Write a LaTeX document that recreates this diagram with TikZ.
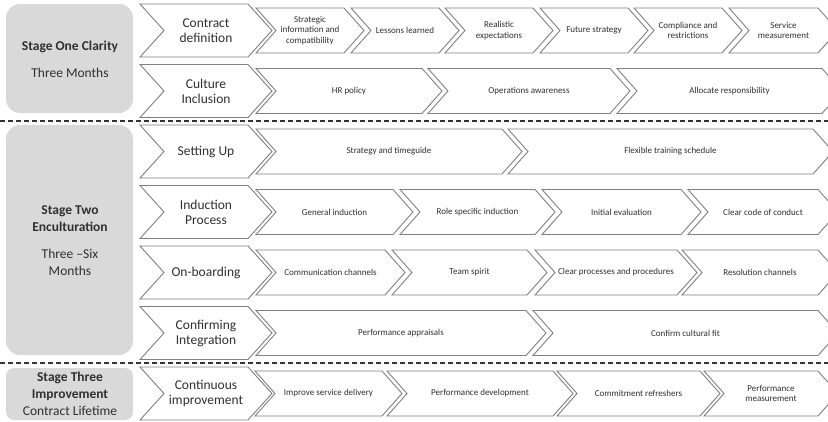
\documentclass[tikz,border=0pt]{standalone}
\usepackage{fontspec}
\setmainfont{Carlito}

\definecolor{stagegray}{HTML}{D9D9D9}
\definecolor{chevgray}{HTML}{7F7F7F}
\definecolor{textgray}{HTML}{303030}

\tikzset{
  chevline/.style={draw=chevgray, line width=0.9pt, fill=white, line join=miter},
  bigtext/.style={align=center, inner sep=0pt, text=textgray,
    font=\fontsize{13.5}{15}\selectfont},
  smalltext/.style={align=center, inner sep=0pt, text=textgray,
    font=\fontsize{9}{10.5}\selectfont},
  stagebox/.style={fill=stagegray, draw=none},
  stagetitle/.style={align=center, inner sep=0pt, text=textgray,
    font=\fontsize{13.5}{16.5}\selectfont\bfseries},
  stagetime/.style={align=center, inner sep=0pt, text=textgray,
    font=\fontsize{13.5}{16.5}\selectfont},
  divider/.style={draw=black!80, line width=1.6pt, dash pattern=on 5pt off 3pt}
}

% big chevron: name, top of row, text
\newcommand{\bigchev}[3]{%
  \draw[chevline] (140,#2) -- ++(108,0) -- ++(24,26.5) -- ++(-24,26.5)
    -- ++(-108,0) -- ++(24,-26.5) -- cycle;
  \node[bigtext] (#1) at (206,#2+26.5) {#3};}

% small chevron: name, left x, width, top of row, text
\newcommand{\smallchev}[5]{%
  \draw[chevline] (#2,#4+4) -- ++(#3,0) -- ++(20,22.5) -- ++(-20,22.5)
    -- ++(-#3,0) -- ++(20,-22.5) -- cycle;
  \node[smalltext] (#1) at (#2+#3/2+10,#4+26.5) {#5};}

\begin{document}
\begin{tikzpicture}[x=1pt,y=-1pt]
  \useasboundingbox (0,0) rectangle (828,421);

  % stages
  \fill[stagebox, rounded corners=14pt] (6,4) rectangle (133,113);
  \fill[stagebox, rounded corners=14pt] (6,125) rectangle (133,355);
  \fill[stagebox, rounded corners=8pt] (6,368) rectangle (133,420);

  \node[stagetitle] (s1title) at (70,47)    {Stage One Clarity};
  \node[stagetime]  (s1time)  at (70,73)    {Three Months};
  \node[stagetitle] (s2title) at (70,218.5) {Stage Two\\Enculturation};
  \node[stagetime]  (s2time)  at (70,262.5) {Three --Six\\Months};
  \node[stagetitle] (s3title) at (70,386.5) {Stage Three\\Improvement};
  \node[stagetime]  (s3time)  at (70,411)   {Contract Lifetime};

  \draw[divider] (0,121) -- (828,121);
  \draw[divider] (0,363) -- (828,363);

  % row 1
  \bigchev{contract}{4}{Contract\\definition}
  \smallchev{strategic}{256}{88}{4}{Strategic\\information and\\compatibility}
  \smallchev{lessons}{351}{88}{4}{Lessons learned}
  \smallchev{realistic}{445}{88}{4}{Realistic\\expectations}
  \smallchev{future}{540}{88}{4}{Future strategy}
  \smallchev{compliance}{634}{88}{4}{Compliance and\\restrictions}
  \smallchev{service}{729}{89}{4}{Service\\measurement}

  % row 2
  \bigchev{culture}{64.5}{Culture\\Inclusion}
  \smallchev{hr}{256}{166}{64.5}{HR policy}
  \smallchev{operations}{428}{182}{64.5}{Operations awareness}
  \smallchev{allocate}{617}{205}{64.5}{Allocate responsibility}

  % row 3
  \bigchev{setting}{125}{Setting Up}
  \smallchev{timeguide}{256}{246}{125}{Strategy and timeguide}
  \smallchev{flexible}{508}{305}{125}{Flexible training schedule}

  % row 4
  \bigchev{induction}{185.5}{Induction\\Process}
  \smallchev{general}{256}{137}{185.5}{General induction}
  \smallchev{role}{400}{135}{185.5}{Role specific induction}
  \smallchev{initial}{542}{139}{185.5}{Initial evaluation}
  \smallchev{conduct}{688}{130}{185.5}{Clear code of conduct}

  % row 5
  \bigchev{onboarding}{246}{On-boarding}
  \smallchev{communication}{256}{129}{246}{Communication channels}
  \smallchev{team}{392}{135}{246}{Team spirit}
  \smallchev{processes}{535}{142}{246}{Clear processes and procedures}
  \smallchev{resolution}{682}{136}{246}{Resolution channels}

  % row 6
  \bigchev{confirming}{306.5}{Confirming\\Integration}
  \smallchev{appraisals}{256}{270}{306.5}{Performance appraisals}
  \smallchev{fit}{533}{285}{306.5}{Confirm cultural fit}

  % row 7
  \bigchev{continuous}{367}{Continuous\\improvement}
  \smallchev{delivery}{255}{127}{367}{Improve service delivery}
  \smallchev{development}{387}{166}{367}{Performance development}
  \smallchev{refreshers}{557}{143}{367}{Commitment refreshers}
  \smallchev{measurement}{704}{114}{367}{Performance\\measurement}
\end{tikzpicture}
\end{document}
